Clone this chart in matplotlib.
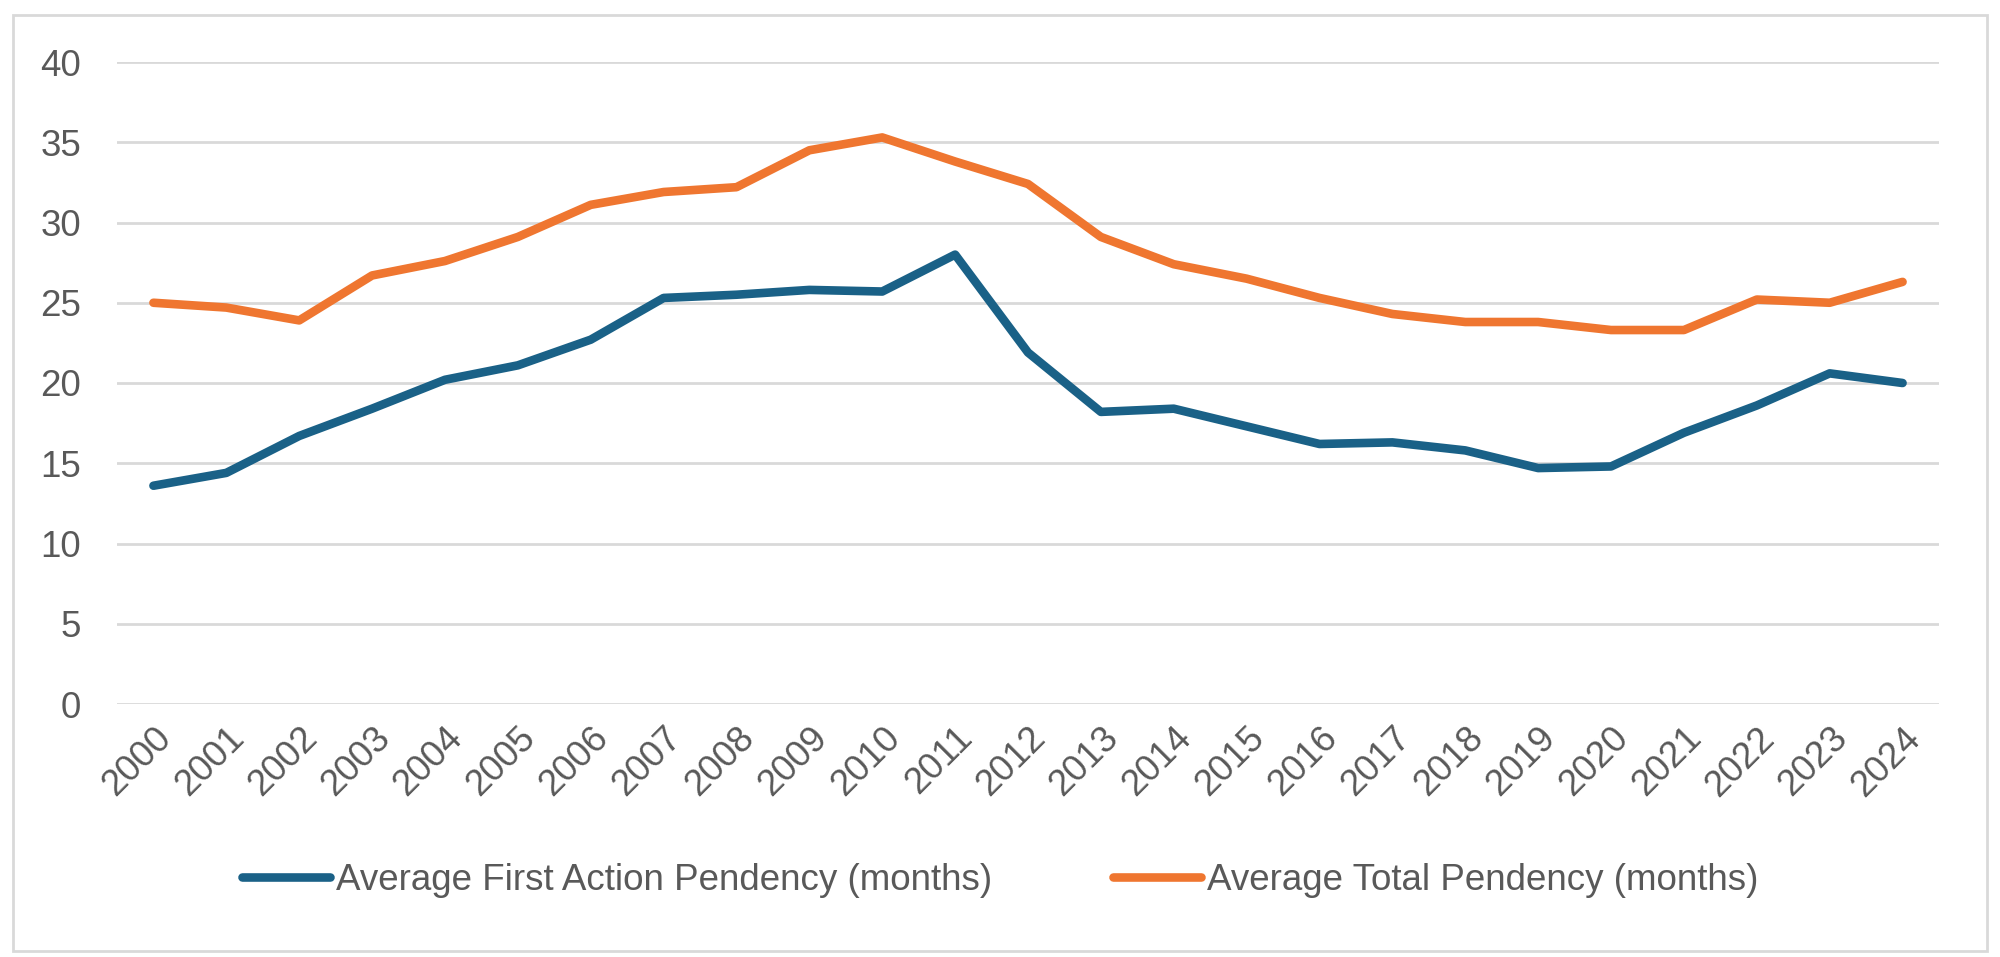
import matplotlib
matplotlib.use("Agg")
import matplotlib.pyplot as plt
from matplotlib.patches import Rectangle

years = [str(y) for y in range(2000, 2025)]
first_action = [13.6, 14.4, 16.7, 18.4, 20.2, 21.1, 22.7, 25.3, 25.5, 25.8, 25.7, 28.0,
                21.9, 18.2, 18.4, 17.3, 16.2, 16.3, 15.8, 14.7, 14.8, 16.9, 18.6, 20.6, 20.0]
total = [25.0, 24.7, 23.9, 26.7, 27.6, 29.1, 31.1, 31.9, 32.2, 34.5, 35.3, 33.8,
         32.4, 29.1, 27.4, 26.5, 25.3, 24.3, 23.8, 23.8, 23.3, 23.3, 25.2, 25.0, 26.3]
yticks = [0, 5, 10, 15, 20, 25, 30, 35, 40]
labels = ["Average First Action Pendency (months)", "Average Total Pendency (months)"]

plt.rcParams['font.family'] = ['Liberation Sans', 'DejaVu Sans']
txt = '#595959'

fig = plt.figure(figsize=(20, 9.57), dpi=100)
ax = fig.add_axes([117/2000, 1-704/957, (1939-117)/2000, (704-62)/957])

x = list(range(len(years)))
ax.plot(x, first_action, color='#1a6187', lw=6.2, solid_capstyle='round', solid_joinstyle='round', label=labels[0])
ax.plot(x, total, color='#ef7630', lw=6.2, solid_capstyle='round', solid_joinstyle='round', label=labels[1])

ax.set_xlim(-0.5, len(years)-0.5)
ax.set_ylim(0, 40)
ax.set_yticks(yticks)
ax.set_yticklabels([str(v) for v in yticks], fontsize=26.5, color=txt)
ax.set_xticks(x)
ax.set_xticklabels(years, fontsize=26.5, color=txt, rotation=45, ha='right', rotation_mode='anchor')
ax.tick_params(axis='both', length=0)
ax.tick_params(axis='y', pad=26)
ax.tick_params(axis='x', pad=12)
ax.grid(axis='y', color='#d9d9d9', lw=2)
ax.set_axisbelow(True)
for s in ax.spines.values():
    s.set_visible(False)

fig.legend(loc='center', bbox_to_anchor=(0.5, 1-880/957), ncol=2, frameon=False,
           fontsize=26.5, labelcolor=txt, handlelength=2.4, handletextpad=0.15, columnspacing=3.3)

fig.add_artist(Rectangle((13/2000, 1-951/957), (1987-13)/2000, (951-15)/957,
                         transform=fig.transFigure, fill=False, edgecolor='#d9d9d9', lw=2))

fig.savefig('out.png', dpi=100)
